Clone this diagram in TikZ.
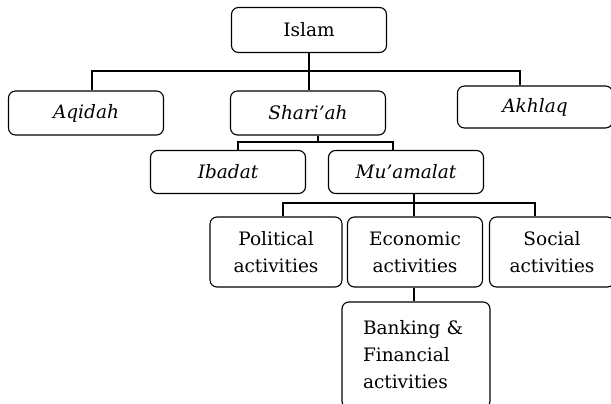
\documentclass[tikz,border=0pt]{standalone}
\usepackage{fontspec}
\setmainfont{DejaVu Serif}
\usetikzlibrary{positioning}
\begin{document}
\begin{tikzpicture}[x=1pt,y=-1pt,
  box/.style={draw,rounded corners=7pt,align=center,line width=1.1pt,inner sep=2pt,
    font=\fontsize{18.5}{27}\selectfont},
  itbox/.style={box,font=\fontsize{18.5}{27}\selectfont\itshape,minimum width=155pt,minimum height=44pt},
  actbox/.style={box,minimum height=70pt},
  ln/.style={line width=1.1pt}]
  \useasboundingbox (0,0) rectangle (611,404);
  \node[box,minimum width=155pt,minimum height=45pt](islam) at (309,30){Islam};
  \node[itbox](aqidah) at (86,113){Aqidah};
  \node[itbox](sharia) at (308,113){Shari’ah};
  \node[itbox,minimum height=42pt](akhlaq) at (535,107){Akhlaq};
  \node[itbox,minimum height=43pt](ibadat) at (228,172){Ibadat};
  \node[itbox,minimum height=43pt](muamalat) at (406,172){Mu’amalat};
  \node[actbox,minimum width=132pt](political) at (276,252){Political\\activities};
  \node[actbox,minimum width=135pt](economic) at (415,252){Economic\\activities};
  \node[actbox,minimum width=125pt](social) at (552,252){Social\\activities};
  \node[box,align=left,text width=106pt,inner xsep=21pt,minimum height=106pt](banking) at (416,355)
    {Banking \&\\Financial\\activities};
  % bus lines between the levels
  \coordinate (bus1) at (310,71);
  \coordinate (bus2) at (318,142);
  \coordinate (bus3) at (414,203);
  \draw[ln](islam.south)--(islam.south|-sharia.north);
  \draw[ln]([xshift=6pt]aqidah.north)|-(bus1)-|([xshift=-15pt]akhlaq.north);
  \draw[ln](bus2|-sharia.south)--(bus2);
  \draw[ln]([xshift=10pt]ibadat.north)|-(bus2)-|([xshift=-13pt]muamalat.north);
  \draw[ln](muamalat.south-|bus3)--(bus3|-economic.north);
  \draw[ln]([xshift=7pt]political.north)|-(bus3)-|([xshift=-17pt]social.north);
  \draw[ln](economic.south-|bus3)--(bus3|-banking.north);
\end{tikzpicture}
\end{document}
